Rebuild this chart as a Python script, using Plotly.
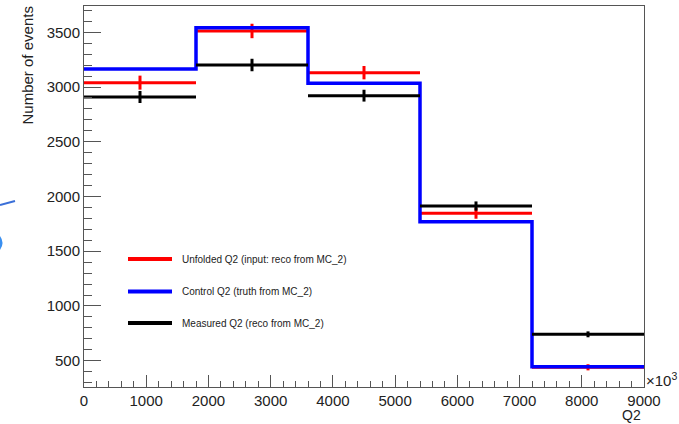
import plotly.graph_objects as go

# ---- data ----
bin_edges = [0, 1800, 3600, 5400, 7200, 9000]
unfolded = [3040, 3512, 3131, 1847, 440]
unfolded_err = [64, 66, 61, 50, 28]
control = [3165, 3542, 3034, 1770, 445]
measured = [2909, 3201, 2921, 1913, 741]
measured_err = [55, 57, 54, 42, 27]

series_names = ["Unfolded Q2 (input: reco from MC_2)",
                "Control Q2 (truth from MC_2)",
                "Measured Q2 (reco from MC_2)"]
y_ticks = [500, 1000, 1500, 2000, 2500, 3000, 3500]
x_ticks = [0, 1000, 2000, 3000, 4000, 5000, 6000, 7000, 8000, 9000]

centers = [(a + b) / 2 for a, b in zip(bin_edges[:-1], bin_edges[1:])]
half_w = [(b - a) / 2 for a, b in zip(bin_edges[:-1], bin_edges[1:])]

RED, BLUE, BLACK = "#ff0000", "#0000ff", "#000000"
FONT = "Liberation Sans, Arial, sans-serif"

fig = go.Figure()

# Unfolded (red) histogram with errors
fig.add_trace(go.Scatter(
    x=centers, y=unfolded, mode="markers", name=series_names[0],
    marker=dict(size=1, color=RED),
    error_x=dict(type="data", array=half_w, width=0, thickness=3, color=RED),
    error_y=dict(type="data", array=unfolded_err, width=0, thickness=3, color=RED),
    showlegend=False, hoverinfo="skip"))

# Control (blue) step histogram
fig.add_trace(go.Scatter(
    x=bin_edges, y=control + [control[-1]], mode="lines", name=series_names[1],
    line=dict(color=BLUE, width=3.5, shape="hv"),
    showlegend=False, hoverinfo="skip"))

# Measured (black) histogram with errors
fig.add_trace(go.Scatter(
    x=centers, y=measured, mode="markers", name=series_names[2],
    marker=dict(size=1, color=BLACK),
    error_x=dict(type="data", array=half_w, width=0, thickness=3, color=BLACK),
    error_y=dict(type="data", array=measured_err, width=0, thickness=3, color=BLACK),
    showlegend=False, hoverinfo="skip"))

axis_common = dict(
    showline=True, linecolor="#555", linewidth=1, mirror=True,
    showgrid=False, zeroline=False, ticks="inside", tickcolor="#555",
    tickfont=dict(family=FONT, size=15, color="#222"),
)

fig.update_xaxes(range=[0, 9000], tickvals=x_ticks, ticklen=12,
                 minor=dict(ticks="inside", ticklen=6, dtick=200, tickcolor="#555"),
                 **axis_common)
fig.update_yaxes(range=[260, 3740], tickvals=y_ticks, ticklen=17,
                 minor=dict(ticks="inside", ticklen=8, dtick=100, tickcolor="#555"),
                 **axis_common)

W, H = 679, 424
L, R, T, B = 84, 35, 6, 37
pw, ph = W - L - R, H - T - B

def px(xp):
    return (xp - L) / pw

def py(yp):
    return (H - B - yp) / ph

fig.add_annotation(text="Number of events", textangle=-90, xref="paper", yref="paper",
                   x=px(27.5), y=py(5), xanchor="center", yanchor="top", showarrow=False,
                   font=dict(family=FONT, size=15, color="#222"))
fig.add_annotation(text="Q2", xref="paper", yref="paper", x=px(643), y=py(415),
                   xanchor="right", yanchor="middle", showarrow=False,
                   font=dict(family=FONT, size=14, color="#222"))
fig.add_annotation(text="×10<sup>3</sup>", xref="paper", yref="paper", x=px(644), y=py(379),
                   xanchor="left", yanchor="middle", showarrow=False,
                   font=dict(family=FONT, size=15, color="#222"))

# manual legend (ROOT-style TLegend)
legend_rows = [259, 291.5, 323]
for name, col, yy in zip(series_names, [RED, BLUE, BLACK], legend_rows):
    fig.add_shape(type="line", xref="paper", yref="paper",
                  x0=px(128), x1=px(172), y0=py(yy), y1=py(yy),
                  line=dict(color=col, width=4))
    fig.add_annotation(text=name, xref="paper", yref="paper", x=px(180), y=py(yy),
                       xanchor="left", yanchor="middle", showarrow=False,
                       font=dict(family=FONT, size=10, color="#222"))

# slide artifacts at the left edge
fig.add_shape(type="line", xref="paper", yref="paper", x0=px(0), y0=py(205), x1=px(15), y1=py(201),
              line=dict(color="#3a6fd8", width=2))
fig.add_shape(type="path", xref="paper", yref="paper",
              path=f"M {px(-2)} {py(236)} Q {px(4)} {py(243)} {px(-2)} {py(250)}",
              line=dict(color="#3a8ff0", width=3))

fig.update_layout(
    width=W, height=H,
    margin=dict(l=L, r=R, t=T, b=B),
    plot_bgcolor="white", paper_bgcolor="white",
    showlegend=False,
)

fig.write_html("out.html", config={"displayModeBar": False},
               post_script="document.body.style.margin='0';")
